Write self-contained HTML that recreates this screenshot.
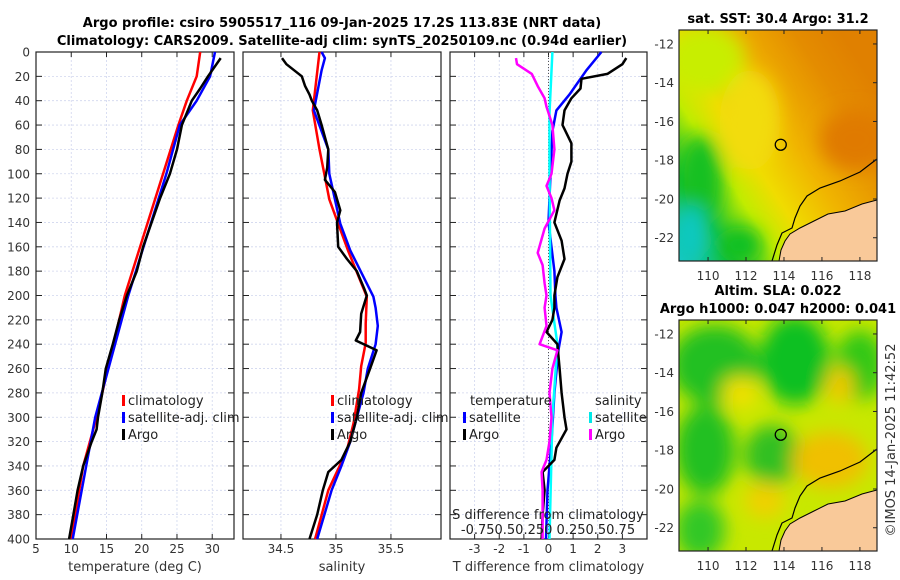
<!DOCTYPE html>
<html><head><meta charset="utf-8">
<style>
html,body{margin:0;padding:0;background:#fff;}
svg{display:block;font-family:"DejaVu Sans","Liberation Sans",sans-serif;}
</style></head>
<body>
<svg id="fig" width="900" height="580" viewBox="0 0 900 580" xmlns="http://www.w3.org/2000/svg">
<defs>
<linearGradient id="sstBase" x1="0" y1="1" x2="1" y2="0.25">
<stop offset="0" stop-color="#10c8c8"/>
<stop offset="0.18" stop-color="#18c030"/>
<stop offset="0.33" stop-color="#c0ec00"/>
<stop offset="0.45" stop-color="#f0dc00"/>
<stop offset="0.62" stop-color="#f0b400"/>
<stop offset="0.85" stop-color="#e48c00"/>
<stop offset="1" stop-color="#e08000"/>
</linearGradient>
<filter id="blur9"><feGaussianBlur stdDeviation="9"/></filter>
<clipPath id="clipTop"><rect x="679" y="30" width="198" height="231"/></clipPath>
<clipPath id="clipBot"><rect x="679" y="320" width="198" height="231"/></clipPath>
</defs>
<g id="titles">
<text x="342" y="27" text-anchor="middle" font-size="13" font-weight="bold">Argo profile: csiro 5905517_116 09-Jan-2025 17.2S 113.83E (NRT data)</text>
<text x="342" y="45" text-anchor="middle" font-size="13" font-weight="bold">Climatology: CARS2009. Satellite-adj clim: synTS_20250109.nc (0.94d earlier)</text>
<text x="778" y="23" text-anchor="middle" font-size="13" font-weight="bold">sat. SST: 30.4 Argo: 31.2</text>
<text x="778" y="295" text-anchor="middle" font-size="13" font-weight="bold">Altim. SLA: 0.022</text>
<text x="778" y="313" text-anchor="middle" font-size="13" font-weight="bold">Argo h1000: 0.047 h2000: 0.041</text>
<text transform="translate(895,440) rotate(-90)" text-anchor="middle" font-size="13" fill="#333">©IMOS 14-Jan-2025 11:42:52</text>
</g>
<g id="panels"></g>
<g id="maps"></g>
</svg>
<script>
// ---------- data ----------
const tempClimDepth = [0,20,40,60,200,300,340,400];
const tempClim      = [28.3,27.8,26.4,25.2,17.6,13.6,11.7,10.0];
const tempSatDepth  = [0,20,40,60,100,200,300,400];
const tempSat       = [30.4,29.7,27.8,25.4,23.5,18.1,13.4,10.2];
const tempArgoDepth = [5,20,30,40,60,80,100,120,140,160,180,200,220,240,260,280,300,310,320,340,360,380,400];
const tempArgo      = [31.2,29.4,28.3,27.1,25.7,25.0,24.0,22.6,21.4,20.2,19.3,17.9,16.8,15.9,14.9,14.4,13.8,13.6,12.9,11.7,10.9,10.3,9.7];

const salClimDepth = [0,48,80,121,141,163,201,223,239,258,277,305,327,360,400];
const salClim      = [34.85,34.79,34.85,34.94,35.02,35.11,35.28,35.27,35.27,35.23,35.21,35.16,35.10,34.93,34.81];
const salSatDepth  = [0,5,15,48,80,100,141,163,201,210,225,240,260,280,320,340,360,400];
const salSat       = [34.87,34.90,34.87,34.80,34.93,34.94,35.04,35.13,35.34,35.36,35.38,35.36,35.29,35.25,35.13,35.05,34.96,34.83];
const salArgoDepth = [5,10,20,28,35,40,48,60,80,95,105,115,130,140,160,170,180,195,200,215,230,237,245,260,280,300,320,335,345,360,380,400];
const salArgo      = [34.51,34.55,34.69,34.72,34.76,34.78,34.83,34.87,34.93,34.92,34.90,34.99,35.04,35.01,35.02,35.10,35.19,35.26,35.28,35.23,35.22,35.18,35.37,35.31,35.23,35.19,35.13,35.05,34.93,34.88,34.83,34.76];

const dTSatDepth  = [0,15,35,48,65,100,140,180,200,210,230,245,280,320,360,400];
const dTSat       = [2.15,1.54,0.85,0.32,0.16,0.08,0.0,0.24,0.28,0.32,0.53,0.40,0.24,0.12,-0.04,-0.10];
const dSSatDepth  = [0,50,100,200,240,300,400];
const dSSat       = [0.04,0.01,0.01,0.02,0.09,0.04,0.01];
const dTArgoDepth = [5,10,18,22,30,38,48,60,75,90,100,112,122,140,155,170,185,200,210,220,230,240,260,280,300,310,325,335,345,360,380,400];
const dTArgo      = [3.16,3.0,2.39,1.34,1.30,0.93,0.65,0.57,0.93,0.93,0.77,0.65,0.45,0.24,0.53,0.65,0.36,0.24,0.24,0.16,-0.08,0.36,0.45,0.53,0.65,0.73,0.32,0.24,-0.24,-0.16,-0.24,-0.28];
const dSArgoDepth = [5,10,18,28,38,45,60,80,100,110,120,130,145,165,175,190,200,210,225,240,245,260,280,300,320,335,345,360,380,400];
const dSArgo      = [-0.33,-0.32,-0.17,-0.11,-0.04,-0.02,0.04,0.06,0.03,-0.02,0.03,0.06,-0.04,-0.11,-0.06,-0.04,-0.02,-0.04,-0.02,-0.09,0.09,0.04,0.01,0.03,0.01,-0.02,-0.07,-0.06,-0.06,-0.06];

const depthTicks = [0,20,40,60,80,100,120,140,160,180,200,220,240,260,280,300,320,340,360,380,400];
const tempTicks = [5,10,15,20,25,30];
const salTicks = [34.5,35,35.5];
const dTTicks = [-3,-2,-1,0,1,2,3];
const lonTicks = [110,112,114,116,118];
const latTicks = [-12,-14,-16,-18,-20,-22];

// ---------- helpers ----------
const NS="http://www.w3.org/2000/svg";
function mk(tag,attrs,parent){const e=document.createElementNS(NS,tag);for(const k in attrs)e.setAttribute(k,attrs[k]);if(parent)parent.appendChild(e);return e;}
const TOP=52,BOT=539;
const yD=d=>TOP+(d/400)*(BOT-TOP);
function linScale(d0,d1,r0,r1){return v=>r0+(v-d0)/(d1-d0)*(r1-r0);}

const panels=document.getElementById('panels');
function panel(name,x0,x1,xs,xticks,xlabels,xtitle,showY){
  const g=mk('g',{},panels);
  
  
  depthTicks.forEach(d=>{const l=mk('line',{x1:x0,x2:x1,y1:yD(d),y2:yD(d),stroke:'#d0d6ee','stroke-width':0.8,'stroke-dasharray':'2,2'},g);
    });
  xticks.forEach((t,i)=>{const X=xs(t);
    const l=mk('line',{x1:X,x2:X,y1:TOP,y2:BOT,stroke:'#d0d6ee','stroke-width':0.8,'stroke-dasharray':'2,2'},g);
    
    mk('line',{x1:X,x2:X,y1:BOT,y2:BOT-5,stroke:'#222'},g);
    mk('line',{x1:X,x2:X,y1:TOP,y2:TOP+5,stroke:'#222'},g);
    if(xlabels){const tx=mk('text',{x:X,y:553,'text-anchor':'middle','font-size':12,fill:'#333'},g);tx.textContent=xlabels[i];
      }
  });
  depthTicks.forEach(d=>{mk('line',{x1:x0,x2:x0+6,y1:yD(d),y2:yD(d),stroke:'#222'},g);mk('line',{x1:x1-6,x2:x1,y1:yD(d),y2:yD(d),stroke:'#222'},g);
    if(showY){const tx=mk('text',{x:30,y:yD(d)+4.5,'text-anchor':'end','font-size':12,fill:'#333'},g);tx.textContent=d;
      }});
  const fr=mk('rect',{x:x0,y:TOP,width:x1-x0,height:BOT-TOP,fill:'none',stroke:'#222','stroke-width':1.2},g);
  
  const tt=mk('text',{x:(x0+x1)/2,y:571,'text-anchor':'middle','font-size':13,fill:'#333'},g);tt.textContent=xtitle;
  
  return g;
}
function line(g,name,xs,vals,depths,color,w){
  const pts=vals.map((v,i)=>xs(v).toFixed(1)+','+yD(depths[i]).toFixed(1)).join(' ');
  const p=mk('polyline',{points:pts,fill:'none',stroke:color,'stroke-width':w,'stroke-linejoin':'round'},g);
  
  
}
function legendItem(g,name,x,y,color,label){
  const gg=mk('g',{},g);
  
  
  mk('rect',{x:x,y:y-10,width:3,height:11,fill:color},gg);
  const t=mk('text',{x:x+6,y:y,'font-size':13,fill:'#222'},gg);t.textContent=label;
}

const xT=linScale(5,33.09,36,234);
const p1=panel('temperature-panel',36,234,xT,tempTicks,tempTicks,'temperature (deg C)',true);
line(p1,'temp-climatology-line',xT,tempClim,tempClimDepth,'#ff0000',2.5);
line(p1,'temp-satellite-line',xT,tempSat,tempSatDepth,'#0000ff',2.5);
line(p1,'temp-argo-line',xT,tempArgo,tempArgoDepth,'#000',2.5);
legendItem(p1,'legend-climatology',122,405,'#ff0000','climatology');
legendItem(p1,'legend-satellite-adj',122,422,'#0000ff','satellite-adj. clim');
legendItem(p1,'legend-argo',122,439,'#000','Argo');

const xS=linScale(34.155,35.955,243,441);
const p2=panel('salinity-panel',243,441,xS,salTicks,salTicks,'salinity',false);
line(p2,'sal-climatology-line',xS,salClim,salClimDepth,'#ff0000',2.5);
line(p2,'sal-satellite-line',xS,salSat,salSatDepth,'#0000ff',2.5);
line(p2,'sal-argo-line',xS,salArgo,salArgoDepth,'#000',2.5);
legendItem(p2,'legend-climatology',331,405,'#ff0000','climatology');
legendItem(p2,'legend-satellite-adj',331,422,'#0000ff','satellite-adj. clim');
legendItem(p2,'legend-argo',331,439,'#000','Argo');

const xDT=linScale(-4,4,450,647);
const xDS=linScale(-1,1,450,647);
const p3=panel('difference-panel',450,647,xDT,dTTicks,dTTicks,'T difference from climatology',false);
const zl=mk('line',{x1:xDT(0),x2:xDT(0),y1:TOP,y2:BOT,stroke:'#555','stroke-width':1,'stroke-dasharray':'1,2'},p3);

line(p3,'dT-satellite-line',xDT,dTSat,dTSatDepth,'#0000ff',2.5);
line(p3,'dS-satellite-line',xDS,dSSat,dSSatDepth,'#00ffff',2.5);
line(p3,'dT-argo-line',xDT,dTArgo,dTArgoDepth,'#000',2.5);
line(p3,'dS-argo-line',xDS,dSArgo,dSArgoDepth,'#ff00ff',2.5);
{const t=mk('text',{x:470,y:405,'font-size':13,fill:'#222'},p3);t.textContent='temperature';}
{const t=mk('text',{x:595,y:405,'font-size':13,fill:'#222'},p3);t.textContent='salinity';}
legendItem(p3,'legend-t-satellite',463,422,'#0000ff','satellite');
legendItem(p3,'legend-t-argo',463,439,'#000','Argo');
legendItem(p3,'legend-s-satellite',589,422,'#00e8e8','satellite');
legendItem(p3,'legend-s-argo',589,439,'#ff00ff','Argo');
{const t=mk('text',{x:548,y:519,'text-anchor':'middle','font-size':13,fill:'#222'},p3);t.textContent='S difference from climatology';}
{const t=mk('text',{x:548,y:534,'text-anchor':'middle','font-size':13,fill:'#222'},p3);t.textContent='-0.750.50.250 0.250.50.75';}

// ---------- maps ----------
const maps=document.getElementById('maps');
const lonX=linScale(108.47,118.9,679,877);
function latY(off){return linScale(-11.28,-23.2,30+off,261+off);}
function mapFrame(name,off,clipId,fillFn){
  const g=mk('g',{},maps);
  
  
  const inner=mk('g',{'clip-path':'url(#'+clipId+')'},g);
  fillFn(inner,off);
  const ly=latY(off);
  const land=[[877,200],[862,204],[845,211],[828,214],[812,222],[800,228],[790,234],[785,241],[781,250],[779,261]];
  const lp=mk('polygon',{points:land.map(p=>p[0]+','+(p[1]+off)).join(' ')+' 877,'+(261+off),fill:'#f9c999',stroke:'#000','stroke-width':1},inner);
  
  const coast=[[877,159],[873,162],[860,172],[840,181],[820,188],[807,196],[800,206],[795,218],[792,228],[782,233],[777,245],[772,261]];
  const cl=mk('polyline',{points:coast.map(p=>p[0]+','+(p[1]+off)).join(' '),fill:'none',stroke:'#000','stroke-width':1.2},inner);
  
  const c=mk('circle',{cx:lonX(113.83),cy:ly(-17.2),r:5.5,fill:'none',stroke:'#000','stroke-width':1.3},g);
  
  const fr=mk('rect',{x:679,y:30+off,width:198,height:231,fill:'none',stroke:'#222','stroke-width':1.2},g);
  
  lonTicks.forEach(t=>{const X=lonX(t);mk('line',{x1:X,x2:X,y1:30+off,y2:34+off,stroke:'#222'},g);mk('line',{x1:X,x2:X,y1:261+off,y2:257+off,stroke:'#222'},g);
    const tx=mk('text',{x:X,y:280+off,'text-anchor':'middle','font-size':12,fill:'#333'},g);tx.textContent=t;
    });
  latTicks.forEach(t=>{const Y=ly(t);mk('line',{x1:873,x2:877,y1:Y,y2:Y,stroke:'#222'},g);
    const tx=mk('text',{x:674,y:Y+4.5,'text-anchor':'end','font-size':12,fill:'#333'},g);tx.textContent=t;
    });
}
mapFrame('sst-map',0,'clipTop',(g,off)=>{
  mk('rect',{x:679,y:30,width:198,height:231,fill:'url(#sstBase)'},g);
  const b=mk('g',{filter:'url(#blur9)'},g);
  mk('ellipse',{cx:705,cy:60,rx:40,ry:35,fill:'#c8ee00'},b);
  mk('ellipse',{cx:700,cy:180,rx:22,ry:45,fill:'#18c020'},b);
  mk('ellipse',{cx:690,cy:235,rx:18,ry:30,fill:'#10c8c0'},b);
  mk('ellipse',{cx:740,cy:245,rx:22,ry:18,fill:'#10c020'},b);
  mk('ellipse',{cx:855,cy:140,rx:35,ry:30,fill:'#e07a00'},b);
  mk('ellipse',{cx:750,cy:120,rx:30,ry:50,fill:'#f2dc10'},b);
});
mapFrame('sla-map',290,'clipBot',(g,off)=>{
  mk('rect',{x:679,y:320,width:198,height:231,fill:'#c8e800'},g);
  const b=mk('g',{filter:'url(#blur9)'},g);
  mk('ellipse',{cx:715,cy:365,rx:45,ry:40,fill:'#20c020'},b);
  mk('ellipse',{cx:795,cy:360,rx:35,ry:45,fill:'#10c020'},b);
  mk('ellipse',{cx:860,cy:365,rx:25,ry:35,fill:'#30c818'},b);
  mk('ellipse',{cx:705,cy:450,rx:30,ry:45,fill:'#20c020'},b);
  mk('ellipse',{cx:772,cy:455,rx:28,ry:30,fill:'#30c020'},b);
  mk('ellipse',{cx:700,cy:530,rx:25,ry:30,fill:'#30c828'},b);
  mk('ellipse',{cx:830,cy:460,rx:38,ry:28,fill:'#f0c000'},b);
  mk('ellipse',{cx:840,cy:385,rx:14,ry:18,fill:'#f0c800'},b);
  mk('ellipse',{cx:765,cy:500,rx:20,ry:18,fill:'#f0d000'},b);
  mk('ellipse',{cx:740,cy:392,rx:18,ry:16,fill:'#f0e000'},b);
});
</script>
</body></html>
